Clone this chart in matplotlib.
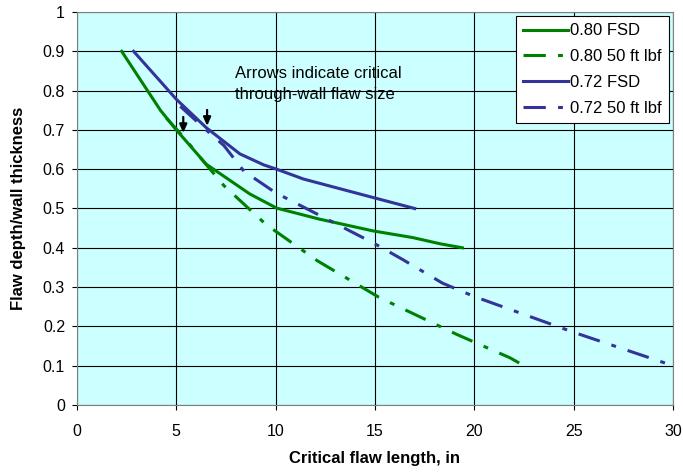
import matplotlib
matplotlib.use("Agg")
import matplotlib.pyplot as plt

plt.rcParams['font.family'] = ['Liberation Sans', 'DejaVu Sans']

# 0.80 FSD
fsd80_x = [2.25, 4.2, 5.0, 6.5, 8.7, 10.05, 12.2, 14.9, 16.9, 18.3, 19.4]
fsd80_y = [0.90, 0.75, 0.70, 0.613, 0.537, 0.501, 0.473, 0.443, 0.426, 0.41, 0.40]
# 0.80 50 ft lbf
cv80_x = [4.5, 5.4, 6.2, 7.4, 9.5, 12.1, 15.2, 19.1, 21.8, 22.5]
cv80_y = [0.73, 0.68, 0.63, 0.558, 0.46, 0.367, 0.274, 0.18, 0.12, 0.10]
# 0.72 FSD
fsd72_x = [2.85, 5.0, 6.5, 8.2, 9.4, 10.05, 11.4, 14.9, 17.0]
fsd72_y = [0.90, 0.778, 0.706, 0.639, 0.611, 0.60, 0.575, 0.528, 0.50]
# 0.72 50 ft lbf
cv72_x = [5.2, 6.5, 7.4, 8.4, 10.0, 12.7, 15.0, 16.4, 18.4, 20.0, 25.0, 30.0]
cv72_y = [0.76, 0.70, 0.66, 0.595, 0.54, 0.47, 0.41, 0.37, 0.31, 0.276, 0.185, 0.10]

# arrows: (x, tip y)
arrow_x = [5.35, 6.55]
arrow_tip = [0.685, 0.703]
arrow_len = 0.055

green = '#008000'
blue = '#333399'
dash = (7.3, 4, 1.6, 4)

fig = plt.figure(figsize=(6.83, 4.73), dpi=100)
ax = fig.add_axes([0.1127, 0.1438, 0.8726, 0.8308])
ax.set_facecolor('#CCFFFF')

ax.plot(fsd80_x, fsd80_y, color=green, lw=2.2, label='0.80 FSD')
ax.plot(cv80_x, cv80_y, color=green, lw=2.2, dashes=dash, label='0.80 50 ft lbf')
ax.plot(fsd72_x, fsd72_y, color=blue, lw=2.2, label='0.72 FSD')
ax.plot(cv72_x, cv72_y, color=blue, lw=2.2, dashes=dash, label='0.72 50 ft lbf')

for x, y in zip(arrow_x, arrow_tip):
    ax.annotate('', xy=(x, y), xytext=(x, y + arrow_len),
                arrowprops=dict(arrowstyle='-|>,head_width=0.22,head_length=0.5',
                                color='black', lw=1.6))

ax.text(7.95, 0.862, 'Arrows indicate critical\nthrough-wall flaw size',
        fontsize=12, va='top', ha='left', linespacing=1.45)

ax.set_xlim(0, 30)
ax.set_ylim(0, 1)
ax.set_xticks(range(0, 31, 5))
ax.set_yticks([i / 10 for i in range(11)])
ax.set_yticklabels(['0', '0.1', '0.2', '0.3', '0.4', '0.5', '0.6', '0.7', '0.8', '0.9', '1'])
ax.grid(True, color='black', lw=0.8)
ax.set_axisbelow(True)
for s in ax.spines.values():
    s.set_color('#808080')
ax.tick_params(labelsize=11.5, length=3.6, color='black')
ax.tick_params(axis='x', pad=10)
ax.tick_params(axis='y', pad=5)

ax.set_xlabel('Critical flaw length, in', fontsize=12, fontweight='bold')
ax.xaxis.set_label_coords(0.5, -0.118)
ax.set_ylabel('Flaw depth/wall thickness', fontsize=12, fontweight='bold')
ax.yaxis.set_label_coords(-0.085, 0.5)

leg = ax.legend(loc='upper right', bbox_to_anchor=(0.9934, 0.99), fontsize=12,
                fancybox=False, framealpha=1, edgecolor='black',
                handlelength=2.7, handletextpad=0.1, borderpad=0.45,
                labelspacing=0.65, borderaxespad=0)
leg.get_frame().set_linewidth(0.8)

fig.savefig('out.png', dpi=100)
